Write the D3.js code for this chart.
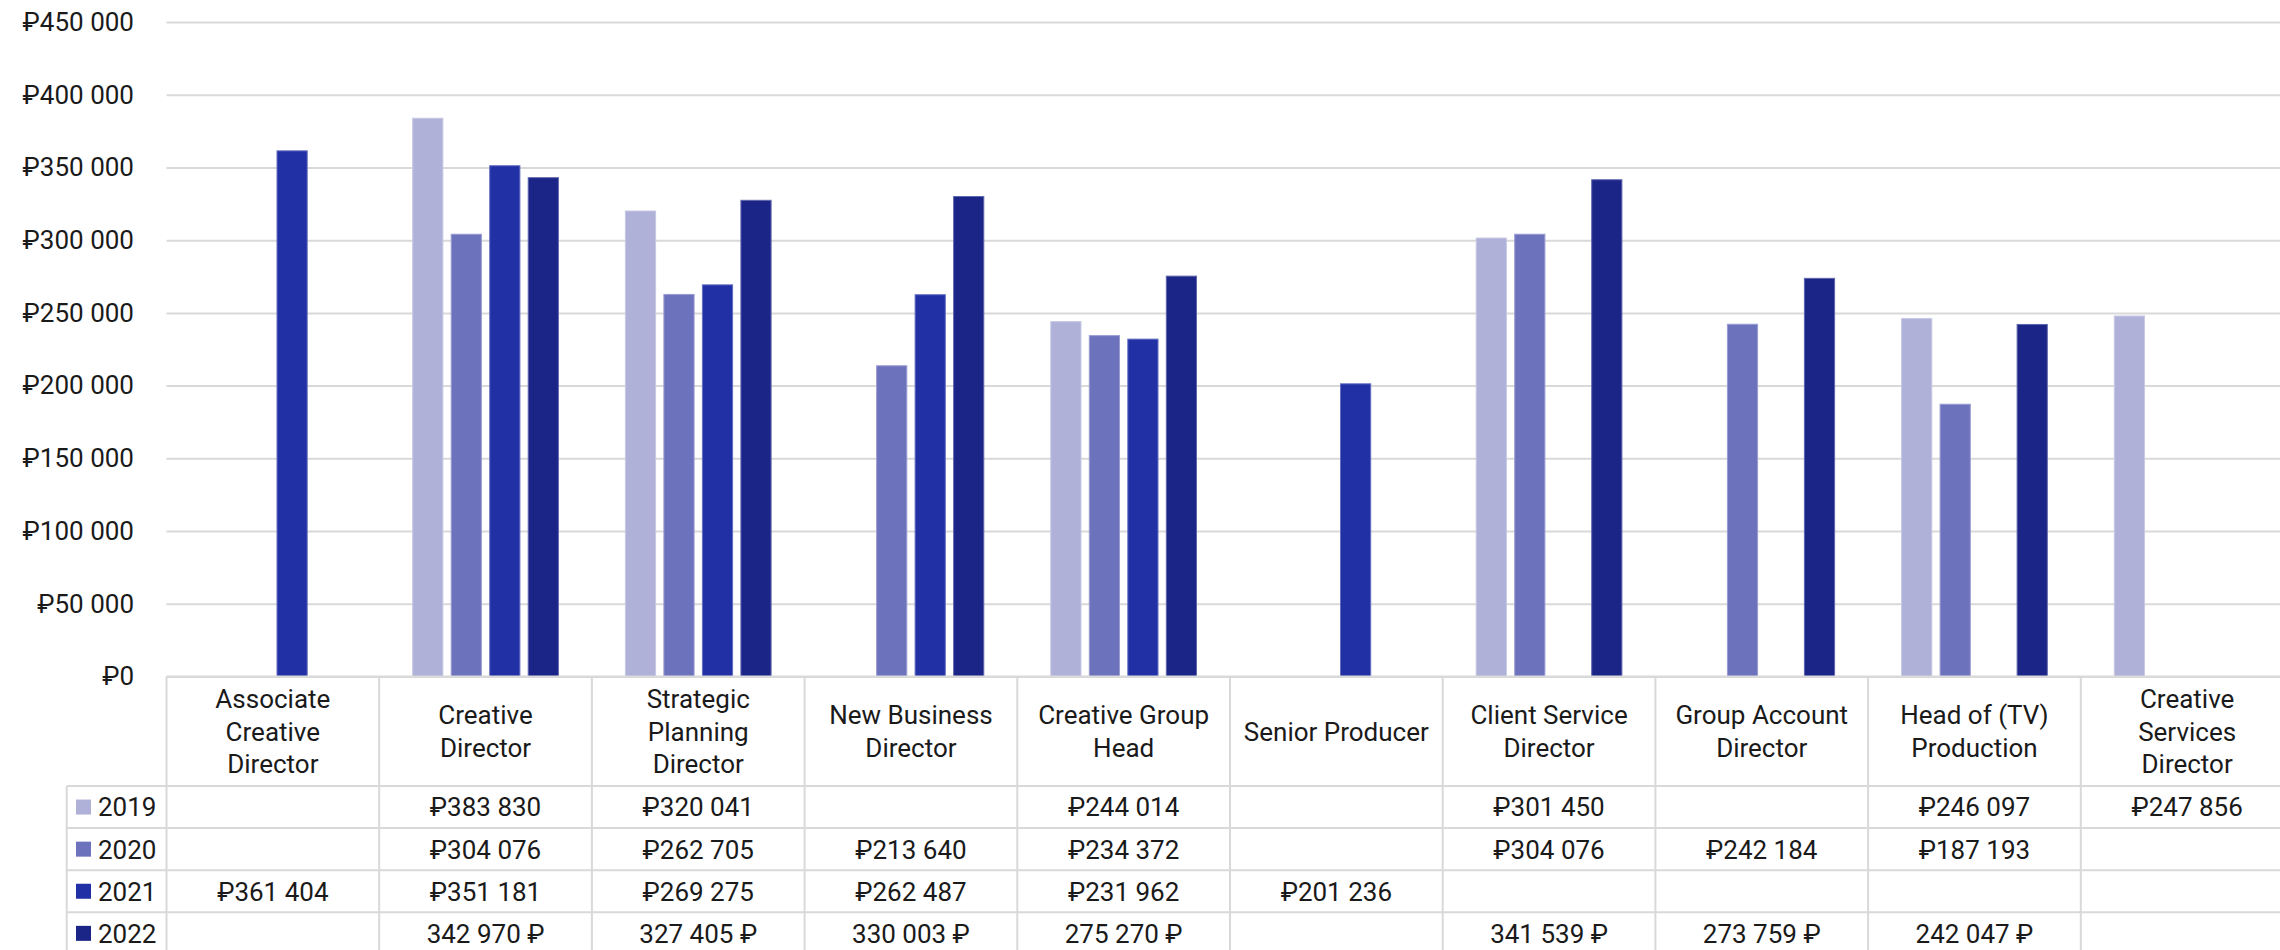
<!DOCTYPE html>
<html>
<head>
<meta charset="utf-8">
<script src="https://cdn.jsdelivr.net/npm/d3@7"></script>
<style>
  html, body { margin: 0; padding: 0; background: #ffffff; }
  svg { display: block; }
  text { font-family: Roboto, "Noto Sans", "DejaVu Sans", sans-serif; fill: #1a1a1a; }
</style>
</head>
<body>
<svg id="chart" width="2280" height="950"></svg>
<script>
// Job titles (table columns / bar groups)
const categories = [
  "Associate Creative Director",
  "Creative Director",
  "Strategic Planning Director",
  "New Business Director",
  "Creative Group Head",
  "Senior Producer",
  "Client Service Director",
  "Group Account Director",
  "Head of (TV) Production",
  "Creative Services Director"
];

// Series (years)
const years = ["2019", "2020", "2021", "2022"];

// Average monthly salary, RUB, per job title (null = no data)
const salaries2019 = [null, 383830, 320041, null, 244014, null, 301450, null, 246097, 247856];
const salaries2020 = [null, 304076, 262705, 213640, 234372, null, 304076, 242184, 187193, null];
const salaries2021 = [361404, 351181, 269275, 262487, 231962, 201236, null, null, null, null];
const salaries2022 = [null, 342970, 327405, 330003, 275270, null, 341539, 273759, 242047, null];

// Where the rouble sign sits in each table row
const currencyPlacement = ["prefix", "prefix", "prefix", "suffix"];

// Value axis ticks
const yTicks = [0, 50000, 100000, 150000, 200000, 250000, 300000, 350000, 400000, 450000];

const seriesValues = [salaries2019, salaries2020, salaries2021, salaries2022];
const colors = ["#afb1d8", "#6d72bd", "#2130a5", "#1b2588"];

// ---- layout ----
const W = 2280, H = 950;
const plotLeft = 166.5;
const colWidth = 212.7;
const plotTop = 22;
const plotBottom = 676.5;
const headerBottom = 786;
const rowHeight = 42.1;
const tableLeft = 66.7;
const fontSize = 26;

const svg = d3.select("#chart");
const color = d3.scaleOrdinal().domain(years).range(colors);

const x0 = d3.scaleBand()
  .domain(categories)
  .range([plotLeft, plotLeft + colWidth * categories.length])
  .padding(0);

const groupWidth = 145.7;
const x1 = d3.scaleBand()
  .domain(years)
  .range([(colWidth - groupWidth) / 2, (colWidth + groupWidth) / 2])
  .paddingInner(0.216);

const y = d3.scaleLinear().domain([0, 450000]).range([plotBottom, plotTop]);

const groupDigits = v => d3.format(",")(v).replace(/,/g, " ");
const axisFmt = v => "\u20BD" + groupDigits(v);
const cellFmt = (v, i) => v == null ? "" :
  (currencyPlacement[i] === "suffix" ? groupDigits(v) + " \u20BD" : "\u20BD" + groupDigits(v));

// ---- gridlines ----
svg.append("g")
  .attr("class", "grid")
  .attr("transform", `translate(${plotLeft},0)`)
  .call(d3.axisLeft(y).tickValues(yTicks).tickSize(-(W - plotLeft)).tickFormat(""))
  .call(g => g.select(".domain").remove())
  .call(g => g.selectAll("line").attr("stroke", "#d9d9d9").attr("stroke-width", 2));

// ---- y axis labels ----
svg.append("g")
  .attr("class", "y-axis")
  .attr("transform", `translate(134,0)`)
  .call(d3.axisLeft(y).tickValues(yTicks).tickSize(0).tickPadding(0).tickFormat(axisFmt))
  .call(g => g.select(".domain").remove())
  .call(g => g.selectAll("text")
    .attr("font-size", fontSize)
    .attr("font-family", null)
    .attr("fill", "#1a1a1a"));

// ---- bars ----
const groups = svg.append("g").attr("class", "bars")
  .selectAll("g")
  .data(categories)
  .join("g")
  .attr("transform", d => `translate(${x0(d)},0)`);

groups.selectAll("rect")
  .data((c, ci) => years.map((yr, si) => ({ year: yr, value: seriesValues[si][ci] })).filter(d => d.value != null))
  .join("rect")
  .attr("x", d => x1(d.year))
  .attr("width", x1.bandwidth())
  .attr("y", d => y(d.value))
  .attr("height", d => y(0) - y(d.value))
  .attr("fill", d => color(d.year))
  .attr("stroke", d => d3.interpolateRgb(color(d.year), "#ffffff")(0.3))
  .attr("stroke-width", 1);

// ---- data table ----
const table = svg.append("g").attr("class", "table");
const lineColor = "#d9d9d9";
const rowTops = years.map((_, i) => headerBottom + i * rowHeight);
const tableBottom = headerBottom + years.length * rowHeight;

// horizontal rules
table.append("line")
  .attr("x1", plotLeft).attr("x2", W)
  .attr("y1", plotBottom).attr("y2", plotBottom)
  .attr("stroke", lineColor).attr("stroke-width", 2);
table.selectAll("line.row")
  .data(rowTops)
  .join("line")
  .attr("class", "row")
  .attr("x1", tableLeft).attr("x2", W)
  .attr("y1", d => d).attr("y2", d => d)
  .attr("stroke", lineColor).attr("stroke-width", 2);

// vertical rules
table.append("line")
  .attr("x1", tableLeft).attr("x2", tableLeft)
  .attr("y1", headerBottom).attr("y2", tableBottom)
  .attr("stroke", lineColor).attr("stroke-width", 2);
table.selectAll("line.col")
  .data(categories)
  .join("line")
  .attr("class", "col")
  .attr("x1", d => x0(d)).attr("x2", d => x0(d))
  .attr("y1", plotBottom).attr("y2", tableBottom)
  .attr("stroke", lineColor).attr("stroke-width", 2);

// header labels, wrapped to the column width
const maxLine = 189;
const lineGap = 32.8;
const headerMid = (plotBottom + headerBottom) / 2;
const measurer = svg.append("text").attr("font-size", fontSize).attr("visibility", "hidden");
function wrap(label) {
  const words = label.split(" ");
  const lines = [];
  let cur = "";
  words.forEach(w => {
    const trial = cur ? cur + " " + w : w;
    measurer.text(trial);
    if (cur && measurer.node().getComputedTextLength() > maxLine) {
      lines.push(cur);
      cur = w;
    } else {
      cur = trial;
    }
  });
  if (cur) lines.push(cur);
  return lines;
}

categories.forEach(c => {
  const lines = wrap(c);
  const cx = x0(c) + x0.bandwidth() / 2;
  const t = table.append("text")
    .attr("text-anchor", "middle")
    .attr("font-size", fontSize);
  lines.forEach((ln, i) => {
    t.append("tspan")
      .attr("x", cx)
      .attr("y", headerMid + (i - (lines.length - 1) / 2) * lineGap)
      .attr("dy", "0.36em")
      .text(ln);
  });
});
measurer.remove();

// row headers: legend swatch + year
years.forEach((yr, i) => {
  const mid = rowTops[i] + rowHeight / 2;
  table.append("rect")
    .attr("x", 76).attr("y", mid - 7.5)
    .attr("width", 15).attr("height", 15)
    .attr("fill", color(yr));
  table.append("text")
    .attr("x", 98).attr("y", mid).attr("dy", "0.36em")
    .attr("font-size", fontSize)
    .text(yr);
});

// cell values
years.forEach((yr, i) => {
  const mid = rowTops[i] + rowHeight / 2;
  table.selectAll(null)
    .data(categories.map((c, ci) => ({ c, v: seriesValues[i][ci] })).filter(d => d.v != null))
    .join("text")
    .attr("x", d => x0(d.c) + x0.bandwidth() / 2)
    .attr("y", mid).attr("dy", "0.36em")
    .attr("text-anchor", "middle")
    .attr("font-size", fontSize)
    .text(d => cellFmt(d.v, i));
});
</script>
</body>
</html>
